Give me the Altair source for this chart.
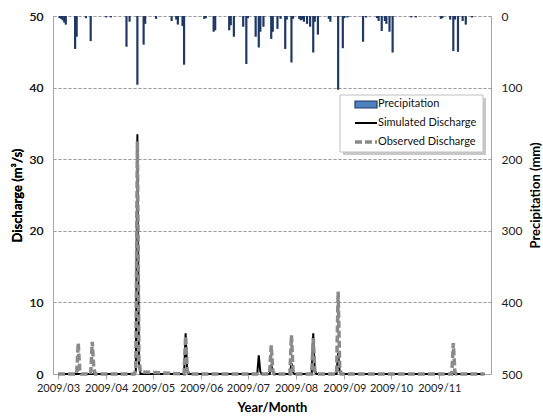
import altair as alt
import pandas as pd

START = pd.Timestamp("2009-03-01")

# Daily precipitation (mm): day offset from 2009-03-01, amount
precip_day = [1, 2, 3, 4, 5, 11, 12, 18, 21, 31, 34, 44, 46, 51, 55, 56, 63, 73, 76, 77,
              80, 81, 94, 95, 100, 101, 110, 111, 113, 119, 121, 122, 127, 129, 130, 132,
              137, 138, 141, 143, 146, 147, 150, 151, 155, 156, 157, 158, 160, 162, 164,
              165, 167, 174, 175, 180, 183, 184, 186, 196, 198, 205, 206, 208, 210, 211,
              213, 215, 227, 230, 246, 247, 252, 254, 255, 257, 260, 262, 266]
precip_mm = [3, 4, 6, 9, 12, 46, 29, 3, 35, 2, 2, 43, 8, 96, 40, 11, 4, 7, 5, 12,
             14, 68, 4, 3, 22, 20, 20, 13, 29, 15, 67, 3, 29, 44, 22, 15,
             32, 22, 18, 4, 46, 5, 65, 4, 4, 6, 5, 8, 11, 15, 51,
             8, 26, 4, 8, 103, 45, 3, 2, 36, 2, 3, 7, 21, 7, 11,
             22, 51, 2, 2, 4, 3, 5, 49, 5, 50, 7, 12, 2]

# Simulated discharge (m3/s)
sim_day = [0, 49, 50, 51, 52, 53, 81, 82, 83, 84, 128, 129, 130, 131, 136, 137, 138, 139,
           149, 150, 151, 152, 163, 164, 165, 166, 179, 180, 181, 182, 274]
sim_q = [0, 0, 0.3, 33.5, 1.5, 0, 0, 5.7, 0.5, 0, 0, 2.6, 0.3, 0, 0, 1.3, 0.3, 0,
         0, 1.5, 0.2, 0, 0, 5.7, 0.5, 0, 0, 3.0, 0.3, 0, 0]

# Observed discharge (m3/s)
obs_day = [0, 12, 13, 14, 15, 21, 22, 23, 24, 49, 50, 51, 52, 53, 81, 82, 83, 84,
           136, 137, 138, 139, 149, 150, 151, 152, 163, 164, 165, 166, 179, 180, 181, 182,
           253, 254, 255, 256, 274]
obs_q = [0, 0, 4.3, 0.5, 0, 0, 4.5, 0.8, 0, 0, 0.5, 32.5, 2.0, 0.3, 0, 5.3, 0.5, 0,
         0, 4.0, 0.5, 0, 0, 5.4, 0.5, 0, 0, 5.0, 0.4, 0, 0, 11.5, 1.0, 0,
         0, 4.3, 0.3, 0, 0]

month_ticks = [3, 4, 5, 6, 7, 8, 9, 10, 11]
discharge_ticks = [0, 10, 20, 30, 40, 50]
precip_ticks = [0, 100, 200, 300, 400, 500]


def to_dates(days):
    return [(START + pd.Timedelta(days=d)).strftime("%Y-%m-%d") for d in days]


precip_df = pd.DataFrame({"date": to_dates(precip_day), "mm": precip_mm})
sim_df = pd.DataFrame({"date": to_dates(sim_day), "q": sim_q})
obs_df = pd.DataFrame({"date": to_dates(obs_day), "q": obs_q})

FONT = "Lato"
AX = "#a6a6a6"

x_enc = alt.X(
    "date:T",
    scale=alt.Scale(type="utc",
                    domain=[alt.DateTime(year=2009, month=3, date=1, utc=True),
                            alt.DateTime(year=2009, month=12, date=1, utc=True)]),
    axis=alt.Axis(values=[alt.DateTime(year=2009, month=m, date=1, utc=True) for m in month_ticks],
                  format="%Y/%m", title="Year/Month", grid=False,
                  domainColor=AX, tickColor=AX, tickSize=5, labelPadding=3,
                  labelFontSize=11, labelColor="#222", titleFontSize=13,
                  titleFontWeight="bold", titlePadding=8, labelFlush=False,
                  labelOverlap=False),
)

bars = alt.Chart(precip_df).mark_bar(size=2.2, color="#1f3864").encode(
    x=x_enc,
    y=alt.Y("mm:Q", scale=alt.Scale(domain=[0, 500], reverse=True, nice=False),
            axis=alt.Axis(orient="right", values=precip_ticks, grid=False, ticks=False,
                          domainColor=AX, labelPadding=10, labelFontSize=12,
                          labelColor="#222", title="Precipitation (mm)",
                          titleFontSize=13, titleFontWeight="bold", titleAngle=270,
                          titlePadding=21)),
)

q_axis = alt.Axis(orient="left", values=discharge_ticks, grid=True, gridDash=[3, 2],
                  gridColor="#999", gridWidth=0.8, ticks=False, domainColor=AX,
                  labelPadding=10, labelFontSize=12, labelColor="#222",
                  title="Discharge (m³/s)", titleFontSize=13, titleFontWeight="bold",
                  titlePadding=5)
q_scale = alt.Scale(domain=[0, 50], nice=False)

sim = alt.Chart(sim_df).mark_line(color="black", strokeWidth=2).encode(
    x=x_enc, y=alt.Y("q:Q", scale=q_scale, axis=q_axis))
obs = alt.Chart(obs_df).mark_line(color="#8a8a8a", strokeWidth=3.5,
                                  strokeDash=[7, 3]).encode(
    x=x_enc, y=alt.Y("q:Q", scale=q_scale, axis=q_axis))

one = pd.DataFrame({"k": [0]})
shadow = alt.Chart(one).mark_rect(fill="#c8c8c8").encode(
    x=alt.value(290), x2=alt.value(433), y=alt.value(82), y2=alt.value(139))
box = alt.Chart(one).mark_rect(fill="white", stroke="#c0c0c0", strokeWidth=1).encode(
    x=alt.value(287), x2=alt.value(430), y=alt.value(79), y2=alt.value(136))
sym_p = alt.Chart(one).mark_rect(fill="#4f81bd", stroke="#1f3d6d", strokeWidth=1.2).encode(
    x=alt.value(302), x2=alt.value(324), y=alt.value(85), y2=alt.value(92))
sym_s = alt.Chart(one).mark_rule(color="black", strokeWidth=2).encode(
    x=alt.value(302), x2=alt.value(324), y=alt.value(107))
sym_o = alt.Chart(one).mark_rule(color="#8a8a8a", strokeWidth=3.5, strokeDash=[7, 3]).encode(
    x=alt.value(302), x2=alt.value(324), y=alt.value(126))
txt_kw = dict(align="left", baseline="middle", fontSize=11, font=FONT, color="#111")
t1 = alt.Chart(one).mark_text(text="Precipitation", **txt_kw).encode(
    x=alt.value(325), y=alt.value(88))
t2 = alt.Chart(one).mark_text(text="Simulated Discharge", **txt_kw).encode(
    x=alt.value(325), y=alt.value(107))
t3 = alt.Chart(one).mark_text(text="Observed Discharge", **txt_kw).encode(
    x=alt.value(325), y=alt.value(126))

chart = alt.layer(bars, sim, obs, shadow, box, sym_p, sym_s, sym_o, t1, t2, t3).resolve_scale(
    y="independent"
).properties(
    width=438, height=358,
    autosize=alt.AutoSizeParams(type="none"),
    padding={"left": 53, "top": 16, "right": 52, "bottom": 45},
).configure(font=FONT).configure_view(stroke=None)

chart.save("out.html", embed_options={"renderer": "svg", "actions": False})
